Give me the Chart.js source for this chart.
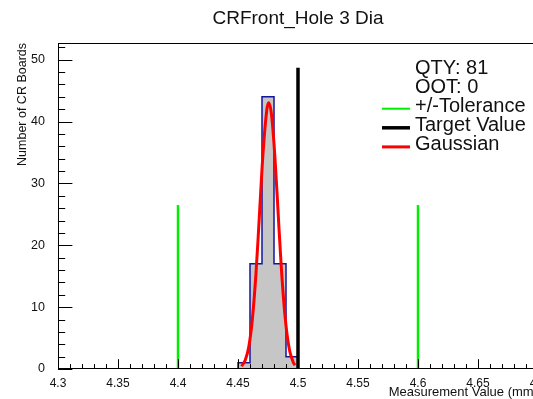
<!DOCTYPE html>
<html>
<head>
<meta charset="utf-8">
<script src="https://cdn.jsdelivr.net/npm/chart.js@4.4.1/dist/chart.umd.min.js"></script>
<style>
    html, body { margin: 0; padding: 0; background: #fff; overflow: hidden; }
    #wrap { width: 596px; height: 399px; }
</style>
</head>
<body>
<div id="wrap"><canvas id="mainChart" width="596" height="399"></canvas></div>
<script>
// histogram bins (mm) and counts
const binLowEdges = [4.45, 4.46, 4.47, 4.48, 4.49];
const binWidth = 0.01;
const binCounts = [1, 17, 44, 17, 2];

// fitted gaussian
const gaussX = [4.453, 4.456, 4.459, 4.462, 4.465, 4.468, 4.471, 4.474, 4.4757, 4.478, 4.481, 4.484, 4.487, 4.490, 4.493, 4.496, 4.4975];
const gaussY = [0.45, 1.4, 3.6, 8.1, 15.5, 25.4, 35.3, 41.9, 43.0, 41.0, 33.5, 23.3, 13.8, 7.0, 3.0, 1.1, 0.6];

// tolerance and target markers
const toleranceX = [4.4, 4.6];
const toleranceTop = 26.5;
const targetX = 4.5;
const targetTop = 48.7;

// axes
const xTicks = [4.3, 4.35, 4.4, 4.45, 4.5, 4.55, 4.6, 4.65, 4.7];
const xTickLabels = ['4.3', '4.35', '4.4', '4.45', '4.5', '4.55', '4.6', '4.65', '4.7'];
const yTicks = [0, 10, 20, 30, 40, 50];
const yTickLabels = ['0', '10', '20', '30', '40', '50'];

const FONT = "'Liberation Sans', Arial, Helvetica, sans-serif";

// step outline of the histogram
const histPoints = [{ x: binLowEdges[0], y: 0 }];
binLowEdges.forEach((e, i) => histPoints.push({ x: e, y: binCounts[i] }));
histPoints.push({ x: binLowEdges[binLowEdges.length - 1] + binWidth, y: 0 });

const gaussPoints = gaussX.map((x, i) => ({ x: x, y: gaussY[i] }));

const qty = binCounts.reduce((a, b) => a + b, 0);
const oot = binCounts.filter((c, i) => binLowEdges[i] < toleranceX[0] || binLowEdges[i] + binWidth > toleranceX[1]).reduce((a, b) => a + b, 0);

// ROOT style frame with ticks pointing inwards
const rootFrame = {
    id: 'rootFrame',
    afterDatasetsDraw(chart) {
        const { ctx, chartArea: a, scales: { x, y } } = chart;
        ctx.save();
        ctx.strokeStyle = '#000';
        ctx.lineWidth = 1;
        ctx.beginPath();
        // x minor every 0.01, major every 0.05
        for (let i = 0; i <= 40; i++) {
            const px = Math.round(x.getPixelForValue(4.3 + i * 0.01)) + 0.5;
            const len = i % 5 === 0 ? 9.8 : 4.9;
            ctx.moveTo(px, a.bottom);
            ctx.lineTo(px, a.bottom - len);
        }
        // y minor every 2, major every 10
        for (let v = 0; v <= 52; v += 2) {
            const py = Math.round(y.getPixelForValue(v)) + 0.5;
            const len = v % 10 === 0 ? 14.4 : 7.2;
            ctx.moveTo(a.left, py);
            ctx.lineTo(a.left + len, py);
        }
        ctx.stroke();
        ctx.strokeRect(Math.round(a.left) + 0.5, Math.round(a.top) + 0.5, a.right - a.left, a.bottom - a.top - 1);
        ctx.restore();
    }
};

// legend box in the upper right corner
const rootLegend = {
    id: 'rootLegend',
    afterDraw(chart) {
        const ctx = chart.ctx;
        const rows = [
            { text: 'QTY: ' + qty },
            { text: 'OOT: ' + oot },
            { text: '+/-Tolerance', color: '#00ee00', width: 2 },
            { text: 'Target Value', color: '#000000', width: 3.5 },
            { text: 'Gaussian', color: '#ff0000', width: 3 }
        ];
        ctx.save();
        ctx.font = '20px ' + FONT;
        ctx.textBaseline = 'middle';
        ctx.fillStyle = '#111';
        rows.forEach((r, i) => {
            const ty = 68 + i * 19.1;
            ctx.fillText(r.text, 415, ty);
            if (r.color) {
                ctx.strokeStyle = r.color;
                ctx.lineWidth = r.width;
                ctx.beginPath();
                ctx.moveTo(382, ty + 2.5);
                ctx.lineTo(410, ty + 2.5);
                ctx.stroke();
            }
        });
        ctx.restore();
    }
};

function vline(xv, top, color, width, order) {
    return {
        data: [{ x: xv, y: 0 }, { x: xv, y: top }],
        borderColor: color,
        borderWidth: width,
        borderCapStyle: 'butt',
        pointRadius: 0,
        fill: false,
        order: order
    };
}

new Chart(document.getElementById('mainChart'), {
    type: 'line',
    data: {
        datasets: [
            vline(targetX, targetTop, '#000000', 3.5, 0),
            vline(toleranceX[0], toleranceTop, '#00ee00', 2.5, 1),
            vline(toleranceX[1], toleranceTop, '#00ee00', 2.5, 1),
            {
                data: gaussPoints,
                borderColor: '#ff0000',
                borderWidth: 3,
                pointRadius: 0,
                tension: 0.35,
                fill: false,
                order: 2
            },
            {
                data: histPoints,
                stepped: 'before',
                borderColor: '#14149c',
                borderWidth: 1.5,
                backgroundColor: '#c6c6c6',
                pointRadius: 0,
                fill: 'origin',
                order: 3
            }
        ]
    },
    options: {
        responsive: false,
        animation: false,
        devicePixelRatio: 1,
        layout: { padding: { left: 0, right: 58, top: 0, bottom: 0 } },
        plugins: {
            legend: { display: false },
            tooltip: { enabled: false },
            title: {
                display: true,
                fullSize: false,
                text: 'CRFront_Hole 3 Dia',
                color: '#111',
                font: { family: FONT, size: 19, weight: 'normal' },
                padding: { top: 7, bottom: 13.2 }
            }
        },
        scales: {
            x: {
                type: 'linear',
                min: 4.3,
                max: 4.7,
                grid: { display: false },
                border: { display: false },
                afterBuildTicks: s => { s.ticks = xTicks.map(v => ({ value: v })); },
                afterFit: s => { s.height = 30; s.paddingLeft = 0; s.paddingRight = 0; },
                ticks: {
                    autoSkip: false,
                    maxRotation: 0,
                    padding: -1,
                    color: '#111',
                    font: { family: FONT, size: 12 },
                    callback: (v, i) => xTickLabels[i]
                },
                title: {
                    display: true,
                    text: 'Measurement Value (mm)',
                    align: 'end',
                    color: '#111',
                    font: { family: FONT, size: 13, lineHeight: 1 },
                    padding: { top: 0, bottom: 0 }
                }
            },
            y: {
                type: 'linear',
                min: 0,
                max: 52.7,
                grid: { display: false },
                border: { display: false },
                afterBuildTicks: s => { s.ticks = yTicks.map(v => ({ value: v })); },
                afterFit: s => { s.width = 58; s.paddingTop = 0; s.paddingBottom = 0; },
                ticks: {
                    autoSkip: false,
                    padding: 5,
                    color: '#111',
                    font: { family: FONT, size: 12.5 },
                    callback: (v, i) => yTickLabels[i]
                },
                title: {
                    display: true,
                    text: 'Number of CR Boards',
                    align: 'end',
                    color: '#111',
                    font: { family: FONT, size: 12.5 },
                    padding: { top: 15, bottom: 0 }
                }
            }
        }
    },
    plugins: [rootFrame, rootLegend]
});
</script>
</body>
</html>
